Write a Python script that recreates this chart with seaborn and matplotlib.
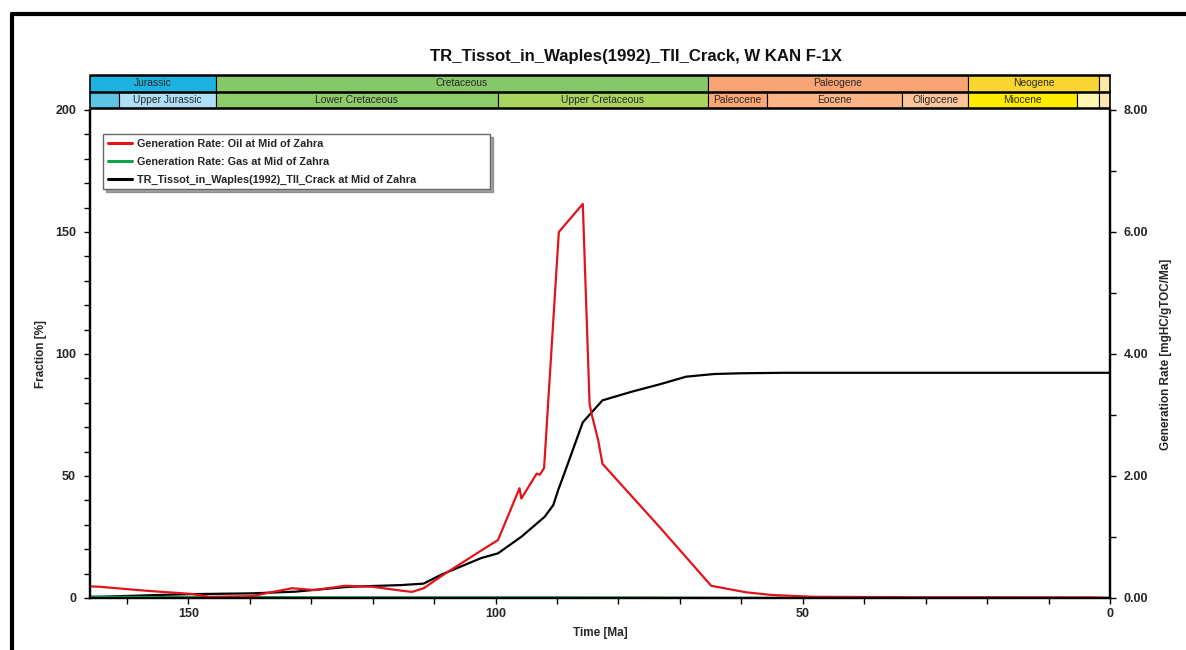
import matplotlib
matplotlib.use("Agg")
import matplotlib.pyplot as plt
from matplotlib.patches import Rectangle
from matplotlib.lines import Line2D
from matplotlib.ticker import MultipleLocator, FormatStrFormatter
import numpy as np
import pandas as pd
import seaborn as sns

# ---------------- data ----------------
# Transformation ratio (left axis, %)
tr_time = [166, 164.5, 155.3, 149.4, 139.6, 132.6, 123.9, 115.3, 111.7, 108.8,
           102.3, 99.6, 95.8, 92.0, 90.6, 89.8, 88.8, 85.8, 82.6, 77.9,
           73.1, 69.0, 64.4, 60.1, 53.0, 0]
tr_value = [0.5, 0.5, 1.2, 1.6, 1.9, 2.6, 4.6, 5.3, 5.9, 9.6,
            16.4, 18.3, 25.1, 33.3, 38.1, 44.3, 51.1, 72.0, 81.0, 84.5,
            87.7, 90.7, 91.8, 92.1, 92.3, 92.3]

# Oil generation rate (right axis, mgHC/gTOC/Ma)
oil_time = [166, 164.5, 157.0, 149.4, 146.6, 139.6, 136.9, 133.1, 129.4, 124.5,
            120.1, 115.3, 113.6, 111.7, 108.2, 102.3, 99.6, 96.1, 95.8, 93.3,
            92.8, 92.1, 89.7, 85.8, 84.7, 84.4, 83.3, 82.6, 73.1, 64.9,
            59.2, 55.1, 48.4, 30.0, 3.2, 0]
oil_rate = [0.19, 0.185, 0.12, 0.066, 0.02, 0.03, 0.087, 0.16, 0.13, 0.20,
            0.185, 0.12, 0.10, 0.16, 0.40, 0.78, 0.95, 1.80, 1.63, 2.04,
            2.02, 2.13, 6.00, 6.46, 3.19, 3.03, 2.59, 2.20, 1.14, 0.20,
            0.093, 0.05, 0.02, 0.012, 0.01, 0.0]

# Gas generation rate (right axis, mgHC/gTOC/Ma)
gas_time = [166, 150, 120, 100, 90, 80, 60, 0]
gas_rate = [0.02, 0.015, 0.01, 0.01, 0.01, 0.008, 0.003, 0.0]

# Geological time scale (Ma)
period_names = ["Jurassic", "Cretaceous", "Paleogene", "Neogene", ""]
period_start = [199.6, 145.5, 65.5, 23.03, 1.806]
period_end = [145.5, 65.5, 23.03, 1.806, 0.0]
period_colors = ["#1eb2e0", "#86c76a", "#f9a475", "#f8d531", "#fbe8a6"]

epoch_names = ["", "Upper Jurassic", "Lower Cretaceous", "Upper Cretaceous",
               "Paleocene", "Eocene", "Oligocene", "Miocene", "", ""]
epoch_start = [175.6, 161.2, 145.5, 99.6, 65.5, 55.8, 33.9, 23.03, 5.332, 1.806]
epoch_end = [161.2, 145.5, 99.6, 65.5, 55.8, 33.9, 23.03, 5.332, 1.806, 0.0]
epoch_colors = ["#5ec4e6", "#ade0f4", "#8ecb6a", "#a9d45e", "#fba776",
                "#fbb587", "#fcc49b", "#ffed00", "#fff6b4", "#fde7b4"]

title = "TR_Tissot_in_Waples(1992)_TII_Crack, W KAN F-1X"
label_oil = "Generation Rate: Oil at Mid of Zahra"
label_gas = "Generation Rate: Gas at Mid of Zahra"
label_tr = "TR_Tissot_in_Waples(1992)_TII_Crack at Mid of Zahra"

T_MAX, T_MIN = 166, 0

# ---------------- style ----------------
sns.set_theme(style="white")
narrow = ["Liberation Sans Narrow", "Liberation Sans", "DejaVu Sans"]
plain = ["Liberation Sans", "DejaVu Sans"]
plt.rcParams["font.family"] = plain

W, H, DPI = 1186, 650, 100
fig = plt.figure(figsize=(W / DPI, H / DPI), dpi=DPI, facecolor="white")


def fx(px):
    return px / W


def fy(py):
    return 1 - py / H


# main axes
ax = fig.add_axes([fx(90), fy(598), fx(1110) - fx(90), fy(110) - fy(598)])
ax2 = ax.twinx()

df_tr = pd.DataFrame({"time": tr_time, "value": tr_value})
df_oil = pd.DataFrame({"time": oil_time, "value": oil_rate})
df_gas = pd.DataFrame({"time": gas_time, "value": gas_rate})

sns.lineplot(data=df_tr, x="time", y="value", ax=ax, color="black", lw=1.6,
             sort=False, estimator=None, legend=False)
sns.lineplot(data=df_gas, x="time", y="value", ax=ax2, color="#12a04a", lw=1.6,
             sort=False, estimator=None, legend=False)
sns.lineplot(data=df_oil, x="time", y="value", ax=ax2, color="#e3131b", lw=1.6,
             sort=False, estimator=None, legend=False)

ax.set_xlim(T_MAX, T_MIN)
ax.set_ylim(0, 200)
ax2.set_ylim(0, 8)

ax.xaxis.set_major_locator(MultipleLocator(50))
ax.xaxis.set_minor_locator(MultipleLocator(10))
ax.yaxis.set_major_locator(MultipleLocator(50))
ax.yaxis.set_minor_locator(MultipleLocator(10))
ax2.yaxis.set_major_locator(MultipleLocator(2))
ax2.yaxis.set_minor_locator(MultipleLocator(1))
ax2.yaxis.set_major_formatter(FormatStrFormatter("%.2f"))

for a in (ax, ax2):
    a.tick_params(which="both", direction="out", length=4, width=1, color="black",
                  pad=6)
    for lab in a.get_xticklabels() + a.get_yticklabels():
        lab.set_fontfamily(narrow)
        lab.set_fontweight("bold")
        lab.set_fontsize(9)
ax.tick_params(axis="x", which="both", bottom=True, top=False, pad=3)
ax.tick_params(axis="y", which="both", left=True, right=False)
ax2.tick_params(axis="y", which="both", right=True, left=False)

for a in (ax, ax2):
    a.spines["top"].set_visible(False)
    for s in ("left", "right", "bottom"):
        a.spines[s].set_linewidth(1.6)
        a.spines[s].set_color("black")
    a.grid(False)

ax.set_xlabel("Time [Ma]", fontdict=dict(family=narrow, weight="bold", size=8.5),
              labelpad=5)
ax.set_ylabel("Fraction [%]", fontdict=dict(family=narrow, weight="bold", size=8.5),
              labelpad=6)
ax2.set_ylabel("Generation Rate [mgHC/gTOC/Ma]",
               fontdict=dict(family=narrow, weight="bold", size=8.5), labelpad=8)

# legend, boxed with a drop shadow and a fixed width
handles = [Line2D([], [], color="#e3131b", lw=2.2),
           Line2D([], [], color="#12a04a", lw=2.2),
           Line2D([], [], color="black", lw=2.2)]
leg = fig.legend(handles, [label_oil, label_gas, label_tr], loc="upper left",
                 bbox_to_anchor=(fx(103), fy(190), fx(490) - fx(103), fy(134) - fy(190)),
                 mode="expand", borderaxespad=0,
                 frameon=True, fancybox=False, shadow=True, framealpha=1,
                 edgecolor="#666666", handlelength=2.2, handletextpad=0.5,
                 labelspacing=0.72, borderpad=0.45,
                 prop=dict(family=plain, weight="bold", size=7.8))
leg.get_frame().set_linewidth(1.0)

# geological time bar
bar = fig.add_axes([fx(90), fy(108), fx(1110) - fx(90), fy(75) - fy(108)])
bar.set_xlim(T_MAX, T_MIN)
bar.set_ylim(0, 2)
bar.axis("off")


def draw_row(names, starts, ends, colors, y0):
    for name, s, e, c in zip(names, starts, ends, colors):
        bar.add_patch(Rectangle((e, y0), s - e, 1, facecolor=c, edgecolor="black",
                                lw=0.8, clip_on=True))
        vs, ve = min(s, T_MAX), max(e, T_MIN)
        if name:
            bar.text((vs + ve) / 2, y0 + 0.5, name, ha="center", va="center",
                     fontsize=7.4, color="#2a2a2a", family=plain)


draw_row(period_names, period_start, period_end, period_colors, 1)
draw_row(epoch_names, epoch_start, epoch_end, epoch_colors, 0)
for yv in (0, 1, 2):
    bar.plot([T_MAX, T_MIN], [yv, yv], color="black", lw=1.8, clip_on=False,
             solid_capstyle="butt")
for xv in (T_MAX, T_MIN):
    bar.plot([xv, xv], [0, 2], color="black", lw=1.2, clip_on=False)

# title
fig.text(fx(636), fy(57), title, ha="center", va="center", fontsize=12.1,
         weight="bold", family=plain, color="#111111")

# page frame
fig.add_artist(Line2D([fx(12), fx(12)], [fy(14), 0], color="black", lw=3,
                      transform=fig.transFigure))
fig.add_artist(Line2D([fx(12), 1], [fy(14), fy(14)], color="black", lw=3,
                      transform=fig.transFigure))

fig.savefig("out.png", dpi=DPI, facecolor="white")
